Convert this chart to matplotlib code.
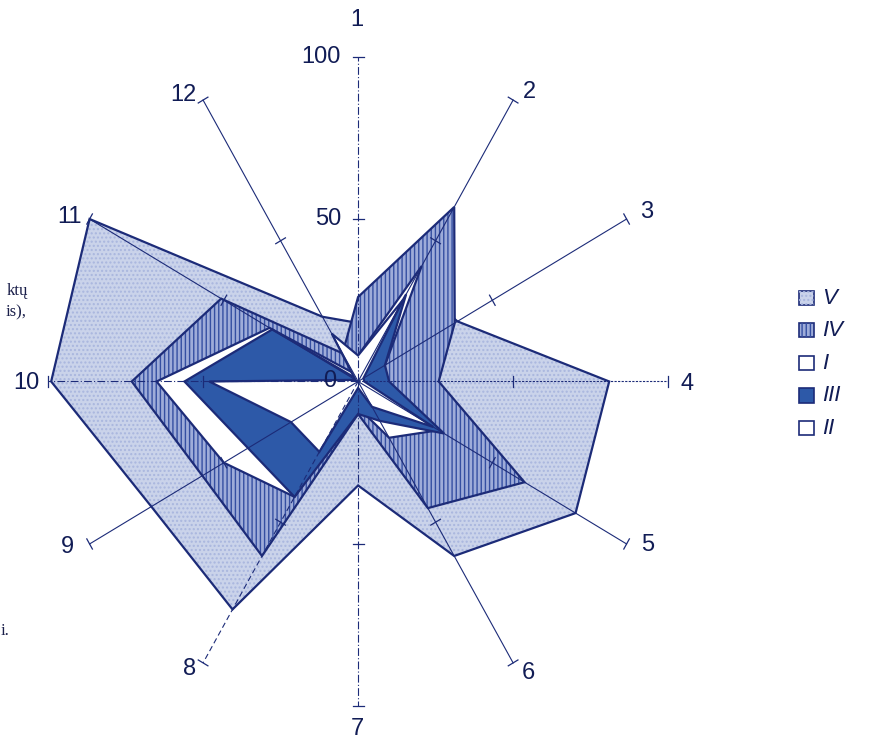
import numpy as np
import matplotlib
matplotlib.use("Agg")
import matplotlib.pyplot as plt
from matplotlib.patches import Polygon, Rectangle

# Spoke names (clockwise from the top) and radial scale
spokes = ["1", "2", "3", "4", "5", "6", "7", "8", "9", "10", "11", "12"]
radial_ticks = [0, 50, 100]

# Series values on spokes 1..12, listed in drawing order (back to front)
V = [18, 35, 37, 81, 81, 62, 32, 81, 77, 99, 100, 23]
IV = [26, 62, 36, 26, 62, 45, 10, 62, 58, 73, 51, 10]
I = [8, 41, 10, 8, 30, 20, 8, 41, 50, 65, 33, 3]
III = [1, 31, 10, 10, 32, 14, 10, 41, 41, 56, 32, 1]
II = [8, 29, 2, 2, 28, 9, 2, 25, 25, 48, 1, 17]

series = [("V", V), ("IV", IV), ("I", I), ("III", III), ("II", II)]
legend_order = ["V", "IV", "I", "III", "II"]

NAVY = "#1c2b78"
TEXT = "#111c55"
styles = {
    "V": dict(face="#cad3ea", hatch="....", hatch_col="#a9b6de"),
    "IV": dict(face="#9eacd9", hatch="||||", hatch_col="#354fa2"),
    "I": dict(face="white", hatch=None, hatch_col=None),
    "III": dict(face="#2d59a8", hatch=None, hatch_col=None),
    "II": dict(face="white", hatch=None, hatch_col=None),
}

# Label offsets (pixels) from each spoke end
label_offsets = [(-1, 37), (16, 8), (20, 7), (19, -3), (21, -1), (15, -10),
                 (-1, -23), (-14, -6), (-22, -3), (-22, -2), (-20, 2), (-20, 5)]

angles = np.deg2rad(90 - 30 * np.arange(len(spokes)))


def to_xy(values):
    r = np.asarray(values, dtype=float)
    return np.column_stack([r * np.cos(angles), r * np.sin(angles)])


fig = plt.figure(figsize=(8.96, 7.49), dpi=100)
ax = fig.add_axes([0, 0, 1, 1])
ax.set_xlim(-115.5, 173.5)
ax.set_ylim(-113.1, 117.4)
ax.axis("off")

plt.rcParams["hatch.linewidth"] = 1.0

# Filled series polygons
for k, (name, vals) in enumerate(series):
    st = styles[name]
    pts = to_xy(vals)
    z = 2 + k
    ax.add_patch(Polygon(pts, closed=True, facecolor=st["face"],
                         edgecolor="none", zorder=z))
    if st["hatch"]:
        ax.add_patch(Polygon(pts, closed=True, fill=False, hatch=st["hatch"],
                             edgecolor=st["hatch_col"], linewidth=0, zorder=z))
    ax.add_patch(Polygon(pts, closed=True, fill=False, edgecolor=NAVY,
                         linewidth=1.6, joinstyle="miter", zorder=z))

# Spokes with tick marks at 50 and 100
spoke_styles = {0: (0, (7, 2, 1, 2)), 3: (0, (2, 1.2)), 6: (0, (7, 2, 1, 2)),
                7: (0, (5, 3)), 9: (0, (7, 2, 1, 2))}
rmax = radial_ticks[-1]
for i, a in enumerate(angles):
    ca, sa = np.cos(a), np.sin(a)
    ax.plot([0, rmax * ca], [0, rmax * sa], color=NAVY, lw=0.8,
            ls=spoke_styles.get(i, "-"), zorder=10)
    for t in radial_ticks[1:]:
        px, py = -sa * 1.8, ca * 1.8
        ax.plot([t * ca - px, t * ca + px], [t * sa - py, t * sa + py],
                color=NAVY, lw=0.9, zorder=10)

# Radial scale labels on the vertical spoke
for t in radial_ticks:
    if t == 0:
        ax.text(-9, 0, "0", ha="center", va="center", fontsize=17,
                family="Liberation Sans", color=TEXT, zorder=11)
    else:
        ax.text(-5.5, t, str(t), ha="right", va="center", fontsize=17,
                family="Liberation Sans", color=TEXT, zorder=11)

# Spoke names
for a, lab, off in zip(angles, spokes, label_offsets):
    ax.annotate(lab, xy=(rmax * np.cos(a), rmax * np.sin(a)), xytext=off,
                textcoords="offset pixels", ha="center", va="center",
                fontsize=17, family="Liberation Sans", color=TEXT, zorder=11)

# Legend
for j, name in enumerate(legend_order):
    st = styles[name]
    y0 = 0.602 - j * 0.0435
    ax.add_patch(Rectangle((0.892, y0 - 0.009), 0.016, 0.019, transform=fig.transFigure,
                           facecolor=st["face"], edgecolor=NAVY, lw=1.2, zorder=12))
    if st["hatch"]:
        ax.add_patch(Rectangle((0.892, y0 - 0.009), 0.016, 0.019, transform=fig.transFigure,
                               fill=False, hatch=st["hatch"], edgecolor=st["hatch_col"],
                               lw=0, zorder=12))
    fig.text(0.918, y0, name, ha="left", va="center", fontsize=16, style="italic",
             family="Liberation Sans", color=TEXT)

# Fragments of the surrounding page text
fig.text(0.031, 0.612, "ktų", ha="right", va="center", fontsize=12,
         family="Liberation Serif", color="#1a1f4a")
fig.text(0.030, 0.583, "is),", ha="right", va="center", fontsize=12,
         family="Liberation Serif", color="#1a1f4a")
fig.text(0.011, 0.157, "i.", ha="right", va="center", fontsize=12,
         family="Liberation Serif", color="#1a1f4a")

fig.savefig("out.png", dpi=100)
